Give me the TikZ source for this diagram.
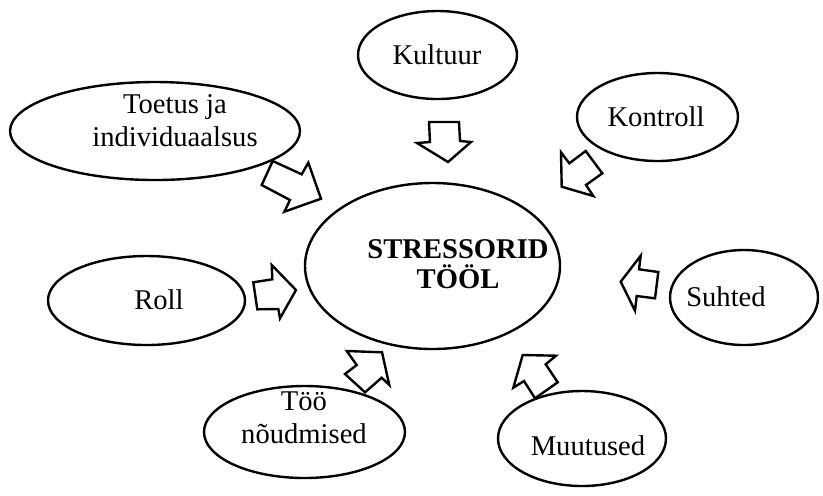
\documentclass[tikz,border=0pt]{standalone}
\usepackage{fontspec}
\setmainfont{Liberation Serif}
\usetikzlibrary{shapes.geometric}
\begin{document}
\begin{tikzpicture}[x=0.5pt,y=-0.5pt,
  oval/.style={draw,ellipse,line width=1.2pt,inner sep=0pt},
  lbl/.style={align=center,inner sep=0pt,font=\fontsize{14.3pt}{16.5pt}\selectfont},
  blockarrow/.style={draw,line width=1.2pt,line join=miter,fill=white}]
\useasboundingbox (0,0) rectangle (823,495);

% ellipses
\node[oval,minimum width=255pt*0.5,minimum height=166pt*0.5] (center) at (432.5,266) {};
\node[oval,minimum width=159pt*0.5,minimum height=88pt*0.5] (kultuur) at (437.5,55) {};
\node[oval,minimum width=290pt*0.5,minimum height=98pt*0.5] (toetus) at (155,131) {};
\node[oval,minimum width=161pt*0.5,minimum height=88pt*0.5] (kontroll) at (657.5,117) {};
\node[oval,minimum width=197pt*0.5,minimum height=89pt*0.5] (roll) at (146.5,300.5) {};
\node[oval,minimum width=148pt*0.5,minimum height=95pt*0.5] (suhted) at (744,297.5) {};
\node[oval,minimum width=201pt*0.5,minimum height=92pt*0.5] (too) at (304.5,432) {};
\node[oval,minimum width=168pt*0.5,minimum height=95pt*0.5] (muutused) at (582,438.5) {};

% labels
\node[lbl,font=\fontsize{14.3pt}{15pt}\selectfont\bfseries] (centertext) at (458,264) {STRESSORID\\TÖÖL};
\node[lbl] (kultuurtext) at (437,55) {Kultuur};
\node[lbl] (toetustext) at (175,121) {Toetus ja\\individuaalsus};
\node[lbl] (kontrolltext) at (656,117) {Kontroll};
\node[lbl] (rolltext) at (159,300) {Roll};
\node[lbl] (suhtedtext) at (726,297) {Suhted};
\node[lbl] (tootext) at (304,418) {Töö\\nõudmised};
\node[lbl] (muutusedtext) at (588,446) {Muutused};

% block arrows pointing towards the centre
\draw[blockarrow] (429,122) -- (459,122) -- (460,141) -- (471,142) -- (448,162) -- (417,143) -- (430,142) -- cycle;
\draw[blockarrow] (272.7,161) -- (301.7,174.3) -- (308.3,162.7) -- (321,198.7) -- (284.3,211.7) -- (290,200) -- (261.7,185) -- cycle;
\draw[blockarrow] (569.3,163.3) -- (585.7,151) -- (602.3,173.3) -- (586,185) -- (593.3,196) -- (561.7,186.7) -- (561,152.3) -- cycle;
\draw[blockarrow] (639,269.3) -- (658.3,272) -- (655,298.3) -- (636.7,296) -- (635,310.7) -- (620.7,281.7) -- (640.7,255.7) -- cycle;
\draw[blockarrow] (253.3,282.3) -- (272.3,279.3) -- (271.7,265) -- (296,290) -- (280,318.3) -- (278.3,309) -- (257.3,309.3) -- cycle;
\draw[blockarrow] (356.7,365) -- (346.7,351) -- (382,352.3) -- (389.3,385) -- (381.7,377.7) -- (365,392.3) -- (345,374) -- cycle;
\draw[blockarrow] (545.7,364.3) -- (557.7,382.3) -- (535,398.3) -- (524,381) -- (513.3,387.7) -- (522.7,355) -- (556,355.7) -- cycle;
\end{tikzpicture}
\end{document}
